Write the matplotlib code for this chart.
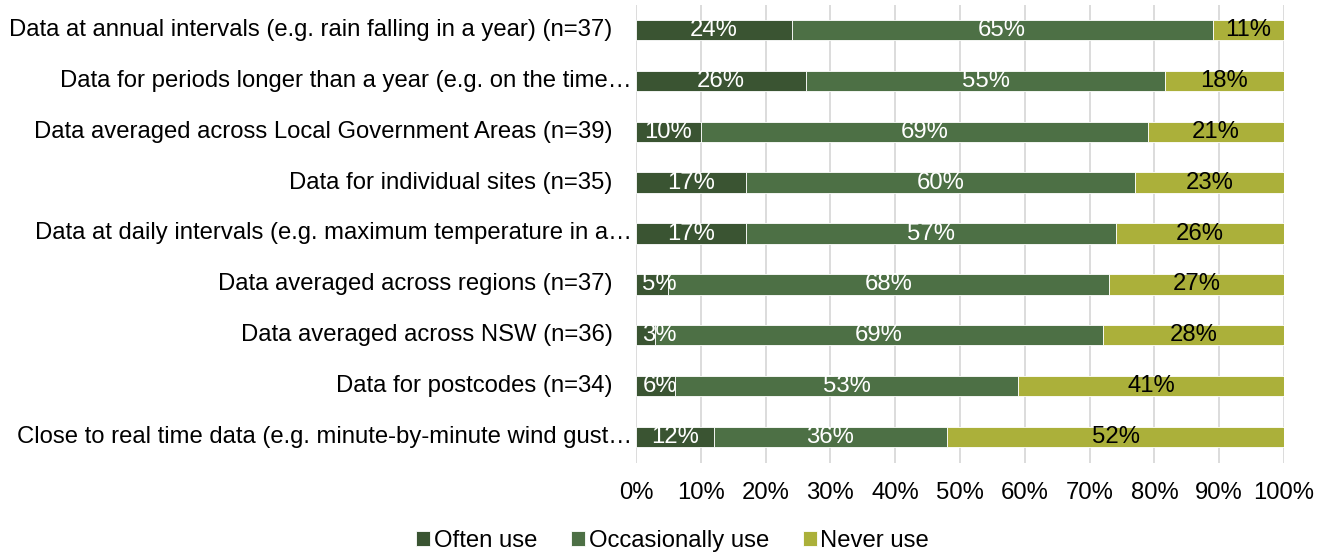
import matplotlib
matplotlib.use('Agg')
from matplotlib import pyplot as plt
import numpy as np

plt.rcParams['font.family'] = ['Liberation Sans', 'DejaVu Sans']

# categories, top to bottom
categories = [
    'Data at annual intervals (e.g. rain falling in a year) (n=37)',
    'Data for periods longer than a year (e.g. on the time…',
    'Data averaged across Local Government Areas (n=39)',
    'Data for individual sites (n=35)',
    'Data at daily intervals (e.g. maximum temperature in a…',
    'Data averaged across regions (n=37)',
    'Data averaged across NSW (n=36)',
    'Data for postcodes (n=34)',
    'Close to real time data (e.g. minute-by-minute wind gust…',
]

often_use = [24, 26.3, 10, 17, 17, 5, 3, 6, 12]
occasionally_use = [65, 55.3, 69, 60, 57, 68, 69, 53, 36]
never_use = [11, 18.4, 21, 23, 26, 27, 28, 41, 52]

series_names = ['Often use', 'Occasionally use', 'Never use']
colors = ['#3A5432', '#4D7045', '#ABB03A']
label_colors = ['white', 'white', 'black']
fs = 17.2

fig = plt.figure(figsize=(13.32, 5.58), dpi=100)
ax = fig.add_axes([636 / 1332, (558 - 462.5) / 558, 648 / 1332, 458 / 558])

y = np.arange(len(categories))
left = np.zeros(len(categories))
for vals, name, col, lcol in zip([often_use, occasionally_use, never_use], series_names, colors, label_colors):
    vals = np.array(vals, dtype=float)
    bars = ax.barh(y, vals, left=left, height=0.4, color=col, edgecolor='white', linewidth=0.6, label=name, zorder=3)
    for b, v in zip(bars, vals):
        cx = b.get_x() + b.get_width() / 2
        cy = b.get_y() + b.get_height() / 2
        if cx < 3.2:
            # small segment at the start: keep the label inside the plot
            ax.text(1.0, cy, '%d%%' % round(v), ha='left', va='center', color=lcol, fontsize=fs, zorder=5)
        else:
            ax.text(cx, cy, '%d%%' % round(v), ha='center', va='center', color=lcol, fontsize=fs, zorder=5)
    left += vals

ax.set_xlim(0, 100)
ax.set_ylim(len(categories) - 0.5, -0.5)
ax.set_yticks(y)
ax.set_yticklabels([])
ax.set_xticks(np.arange(0, 101, 10))
ax.set_xticklabels(['%d%%' % t for t in range(0, 101, 10)], fontsize=fs)
ax.tick_params(axis='y', length=0)
ax.tick_params(axis='x', length=0, pad=14)
ax.grid(axis='x', color='#D9D9D9', linewidth=1.3, zorder=0)
for s in ax.spines.values():
    s.set_visible(False)

# category labels; truncated ones run up to the bars
for yi, cat in zip(y, categories):
    off = -3 if cat.endswith('…') else -17
    ax.annotate(cat, xy=(0, yi), xycoords=('axes fraction', 'data'), xytext=(off, 0),
                textcoords='offset points', ha='right', va='center', fontsize=fs)

fig.legend(loc='center', bbox_to_anchor=(0.505, 1 - 541 / 558), ncol=3, frameon=False, fontsize=fs,
           handlelength=0.6, handleheight=0.6, handletextpad=0.15, columnspacing=1.4)

fig.savefig('out.png', dpi=100)
